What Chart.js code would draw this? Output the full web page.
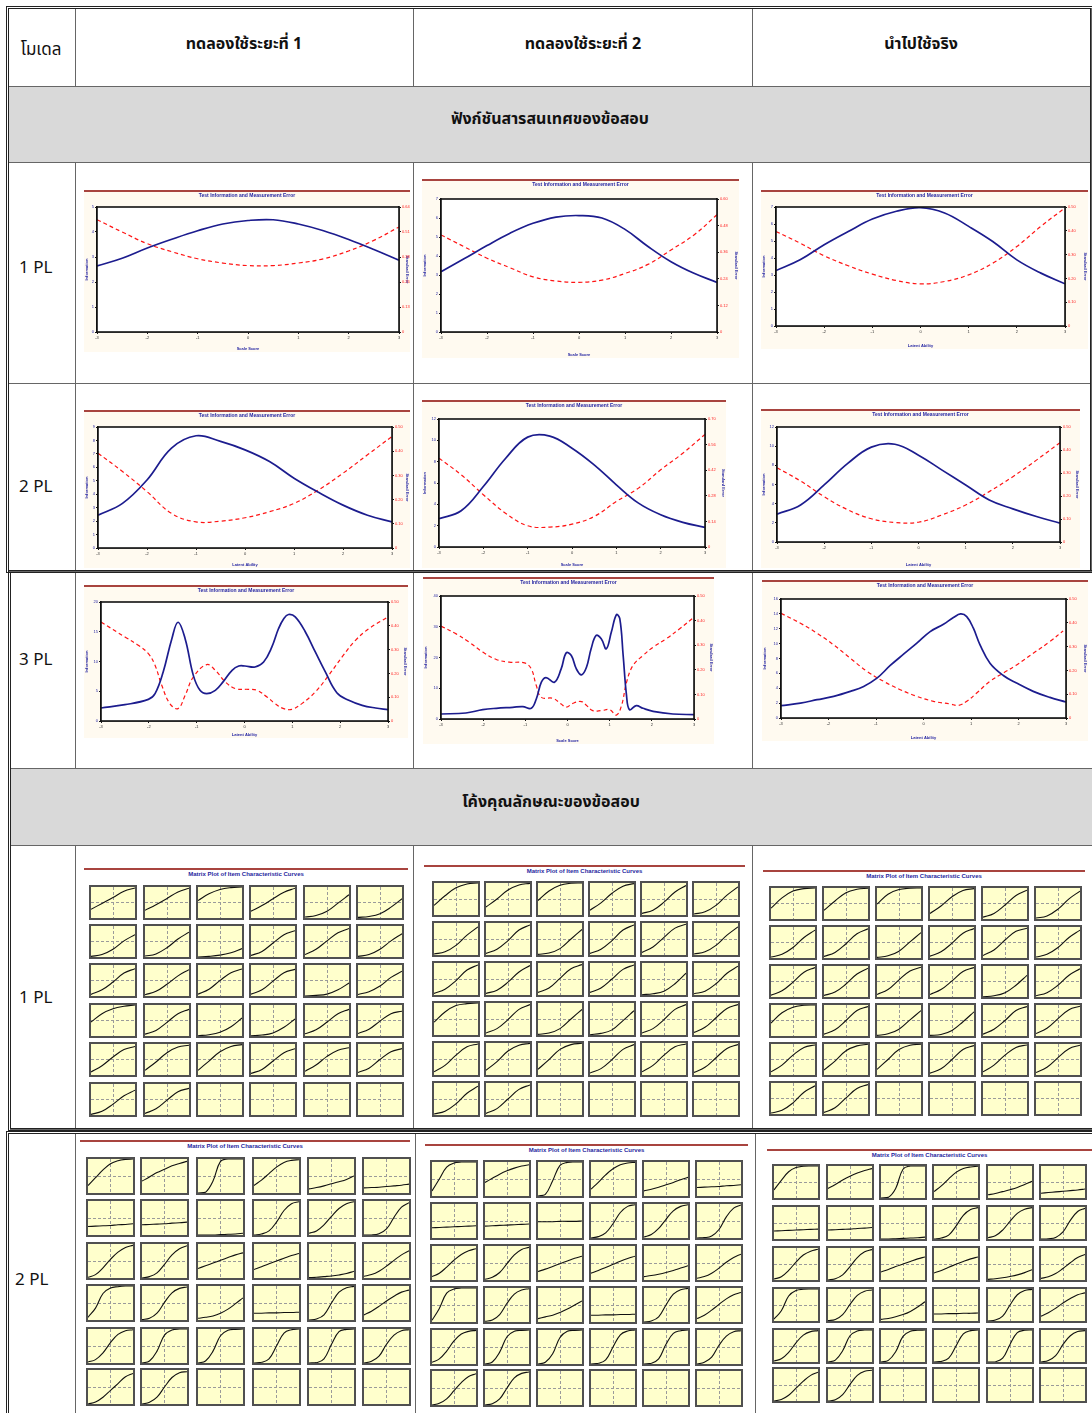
<!DOCTYPE html>
<html lang="th">
<head>
<meta charset="utf-8">
<title>ฟังก์ชันสารสนเทศและโค้งคุณลักษณะของข้อสอบ</title>
<script src="https://cdn.jsdelivr.net/npm/chart.js@4.4.0/dist/chart.umd.min.js"></script>
<style>
html, body { margin: 0; padding: 0; background: #fff; }
body { width: 1092px; height: 1413px; position: relative; overflow: hidden;
       font-family: Tahoma, "Leelawadee UI", "Noto Sans Thai", "Noto Sans", sans-serif; color: #111; }
.frame { position: absolute; border: 3px double #222; box-sizing: border-box; }
.cell { position: absolute; border: 1px solid #666; box-sizing: border-box; }
.grey { background: #d9d9d9; }
.txt { position: absolute; font-size: 17px; white-space: nowrap; }
.c { transform: translate(-50%, -50%); }
.l { transform: translateY(-50%); }
.b { font-weight: bold; font-size: 16px; }
.fig { position: absolute; border-top: 2px solid #a8443f; background: #fffaf0; }
.fig canvas { position: absolute; left: 0; top: 0; }
.mline { position: absolute; border-top: 2px solid #a8443f; }
.mtitle { position: absolute; font: bold 6px Arial, sans-serif; color: #1f1fa0; white-space: nowrap; transform: translateX(-50%); }
.panel { position: absolute; background: #ffffcc; border: 2px solid #505050; box-sizing: border-box; }
.panel canvas { display: block; }
</style>
</head>
<body>
<div id="page"></div>
<script>
// ---------- data ----------
const thetaGrid = [-3, -2.5, -2, -1.5, -1, -0.5, 0, 0.5, 1, 1.5, 2, 2.5, 3];

// test information / standard error, 1PL
const info1PL_t1 = [2.64, 2.95, 3.36, 3.72, 4.05, 4.32, 4.46, 4.49, 4.32, 4.05, 3.70, 3.30, 2.87];
const se1PL_t1   = [0.575, 0.512, 0.452, 0.410, 0.375, 0.353, 0.340, 0.340, 0.353, 0.375, 0.415, 0.469, 0.538];
const info1PL_t2 = [3.17, 3.85, 4.55, 5.20, 5.72, 6.05, 6.13, 6.00, 5.40, 4.50, 3.70, 3.09, 2.61];
const se1PL_t2   = [0.438, 0.385, 0.333, 0.290, 0.249, 0.230, 0.224, 0.234, 0.264, 0.305, 0.370, 0.438, 0.529];
const info1PL_use = [3.26, 3.89, 4.78, 5.56, 6.29, 6.75, 6.96, 6.65, 5.86, 4.97, 3.89, 3.11, 2.48];
const se1PL_use   = [0.397, 0.348, 0.295, 0.253, 0.218, 0.191, 0.177, 0.187, 0.215, 0.264, 0.334, 0.419, 0.496];

// 2PL
const info2PL_t1 = [2.44, 3.32, 5.06, 7.43, 8.35, 7.93, 7.30, 6.43, 5.19, 4.14, 3.19, 2.44, 1.94];
const se2PL_t1   = [0.392, 0.316, 0.233, 0.143, 0.108, 0.111, 0.125, 0.150, 0.184, 0.240, 0.309, 0.385, 0.461];
const info2PL_t2 = [2.65, 3.40, 5.67, 8.30, 10.30, 10.40, 9.26, 7.70, 5.83, 4.11, 3.02, 2.31, 1.84];
const se2PL_t2   = [0.486, 0.395, 0.286, 0.185, 0.116, 0.109, 0.125, 0.167, 0.249, 0.322, 0.422, 0.513, 0.616];
const info2PL_use = [2.90, 3.87, 5.95, 8.20, 9.90, 10.20, 9.06, 7.50, 5.95, 4.39, 3.46, 2.66, 1.97];
const se2PL_use   = [0.323, 0.265, 0.197, 0.140, 0.101, 0.085, 0.086, 0.118, 0.161, 0.219, 0.284, 0.356, 0.432];

// 3PL (irregular curves, own theta points)
const info3PL_t1_x = [-3, -2.5, -2.01, -1.87, -1.70, -1.52, -1.39, -1.24, -1.07, -0.93, -0.79, -0.61, -0.44, -0.26, -0.12, 0.01, 0.22, 0.40, 0.57, 0.71, 0.82, 0.92, 1.06, 1.27, 1.48, 1.69, 1.93, 2.18, 2.46, 2.74, 3];
const info3PL_t1   = [2.18, 2.74, 3.64, 4.59, 8.24, 13.8, 16.6, 13.8, 7.67, 5.15, 4.59, 5.15, 6.66, 8.52, 9.24, 9.24, 9.08, 9.92, 12.4, 15.5, 17.2, 17.9, 17.5, 15.0, 11.6, 8.24, 4.76, 3.47, 2.63, 2.18, 1.90];
const se3PL_t1_x   = [-3, -2.5, -2.22, -2.01, -1.87, -1.73, -1.56, -1.39, -1.24, -1.07, -0.79, -0.61, -0.40, -0.19, 0.08, 0.26, 0.47, 0.64, 0.82, 0.99, 1.20, 1.48, 1.76, 2.04, 2.32, 2.60, 3];
const se3PL_t1     = [0.416, 0.353, 0.318, 0.283, 0.234, 0.150, 0.073, 0.052, 0.108, 0.185, 0.237, 0.213, 0.164, 0.136, 0.133, 0.129, 0.101, 0.073, 0.052, 0.049, 0.073, 0.122, 0.192, 0.269, 0.339, 0.388, 0.437];

const info3PL_t2_x = [-3, -2.41, -2.01, -1.69, -1.30, -1.06, -0.86, -0.74, -0.62, -0.51, -0.31, -0.15, -0.03, 0.09, 0.21, 0.33, 0.45, 0.56, 0.68, 0.80, 0.92, 1.04, 1.16, 1.24, 1.32, 1.40, 1.47, 1.63, 1.79, 2.03, 2.50, 3];
const info3PL_t2   = [1.63, 1.96, 3.04, 3.48, 3.80, 4.02, 3.48, 6.52, 11.96, 13.48, 11.96, 16.3, 21.5, 20.65, 16.3, 14.35, 16.85, 22.83, 27.17, 26.09, 22.83, 28.26, 33.91, 32.61, 20.65, 7.61, 3.04, 4.35, 3.48, 2.50, 1.63, 1.41];
const se3PL_t2_x   = [-3, -2.64, -2.33, -2.01, -1.69, -1.38, -1.02, -0.86, -0.74, -0.62, -0.35, -0.15, -0.03, 0.13, 0.33, 0.44, 0.60, 0.80, 1.0, 1.16, 1.28, 1.40, 1.55, 1.79, 2.03, 2.34, 2.66, 3];
const se3PL_t2     = [0.378, 0.346, 0.312, 0.272, 0.242, 0.231, 0.228, 0.204, 0.136, 0.088, 0.084, 0.061, 0.048, 0.064, 0.071, 0.057, 0.034, 0.034, 0.038, 0.016, 0.054, 0.149, 0.217, 0.258, 0.292, 0.326, 0.367, 0.414];

const info3PL_use_x = [-3, -2.59, -2.24, -1.89, -1.54, -1.26, -0.98, -0.70, -0.42, -0.14, 0.14, 0.42, 0.63, 0.78, 0.91, 1.05, 1.19, 1.40, 1.68, 1.96, 2.31, 2.66, 3];
const info3PL_use   = [1.65, 2.01, 2.46, 2.91, 3.58, 4.25, 5.36, 7.06, 8.58, 10.06, 11.62, 12.6, 13.5, 13.99, 13.63, 12.07, 9.83, 7.37, 5.72, 4.69, 3.58, 2.77, 2.15];
const se3PL_use_x   = [-3, -2.59, -2.24, -1.89, -1.54, -1.19, -0.84, -0.49, -0.14, 0.21, 0.56, 0.74, 0.91, 1.12, 1.40, 1.68, 1.96, 2.31, 2.66, 2.94];
const se3PL_use     = [0.440, 0.398, 0.356, 0.307, 0.251, 0.196, 0.154, 0.119, 0.091, 0.070, 0.059, 0.053, 0.070, 0.105, 0.154, 0.189, 0.223, 0.272, 0.321, 0.366];

// item characteristic curves: probability read at evenly spaced theta points
const iccGrid5 = [-3, -1.5, 0, 1.5, 3];
const iccGrid7 = [-3, -2, -1, 0, 1, 2, 3];

const icc1PL_t1 = [
  [0.28, 0.47, 0.66, 0.86, 0.97], [0.25, 0.43, 0.63, 0.84, 0.96], [0.56, 0.78, 0.92, 0.98, 1.0],
  [0.22, 0.40, 0.62, 0.83, 0.96], [0.03, 0.08, 0.22, 0.48, 0.75], [0.02, 0.05, 0.14, 0.35, 0.62],
  [0.02, 0.08, 0.25, 0.52, 0.72], [0.03, 0.10, 0.30, 0.58, 0.80], [0.0, 0.02, 0.06, 0.14, 0.27],
  [0.05, 0.18, 0.45, 0.72, 0.85], [0.08, 0.25, 0.52, 0.78, 0.92], [0.02, 0.08, 0.25, 0.52, 0.75],
  [0.05, 0.20, 0.45, 0.74, 0.88], [0.04, 0.15, 0.38, 0.65, 0.85], [0.06, 0.22, 0.50, 0.75, 0.87],
  [0.06, 0.20, 0.48, 0.75, 0.86], [0.0, 0.02, 0.06, 0.20, 0.42], [0.05, 0.14, 0.32, 0.60, 0.80],
  [0.45, 0.72, 0.88, 0.96, 1.0], [0.06, 0.18, 0.44, 0.72, 0.86], [0.01, 0.04, 0.12, 0.30, 0.58],
  [0.01, 0.03, 0.10, 0.28, 0.55], [0.07, 0.20, 0.45, 0.72, 0.86], [0.08, 0.22, 0.48, 0.72, 0.80],
  [0.10, 0.30, 0.58, 0.82, 0.92], [0.15, 0.42, 0.72, 0.90, 0.96], [0.15, 0.45, 0.75, 0.92, 0.98],
  [0.05, 0.18, 0.45, 0.72, 0.85], [0.12, 0.32, 0.60, 0.80, 0.88], [0.08, 0.22, 0.50, 0.75, 0.85],
  [0.02, 0.12, 0.35, 0.62, 0.80], [0.05, 0.20, 0.48, 0.75, 0.86]
];
const icc1PL_t2 = [
  [0.30, 0.60, 0.85, 0.97, 1.0], [0.25, 0.50, 0.78, 0.94, 0.99], [0.45, 0.75, 0.93, 0.99, 1.0],
  [0.15, 0.38, 0.68, 0.90, 0.98], [0.05, 0.15, 0.40, 0.72, 0.92], [0.03, 0.10, 0.30, 0.62, 0.88],
  [0.03, 0.10, 0.30, 0.62, 0.88], [0.05, 0.18, 0.45, 0.78, 0.94], [0.02, 0.06, 0.20, 0.50, 0.80],
  [0.05, 0.18, 0.45, 0.78, 0.94], [0.08, 0.25, 0.55, 0.84, 0.96], [0.03, 0.10, 0.30, 0.62, 0.88],
  [0.05, 0.18, 0.45, 0.78, 0.94], [0.05, 0.15, 0.40, 0.72, 0.92], [0.08, 0.22, 0.52, 0.82, 0.95],
  [0.08, 0.22, 0.50, 0.80, 0.94], [0.01, 0.04, 0.12, 0.35, 0.68], [0.04, 0.12, 0.35, 0.68, 0.90],
  [0.40, 0.72, 0.92, 0.98, 1.0], [0.06, 0.20, 0.48, 0.80, 0.95], [0.02, 0.06, 0.20, 0.50, 0.80],
  [0.01, 0.05, 0.16, 0.45, 0.76], [0.06, 0.20, 0.48, 0.80, 0.95], [0.08, 0.24, 0.54, 0.83, 0.95],
  [0.10, 0.30, 0.62, 0.88, 0.97], [0.15, 0.42, 0.75, 0.93, 0.99], [0.18, 0.48, 0.80, 0.95, 0.99],
  [0.06, 0.20, 0.48, 0.80, 0.95], [0.10, 0.30, 0.62, 0.88, 0.97], [0.08, 0.24, 0.54, 0.83, 0.95],
  [0.03, 0.12, 0.35, 0.68, 0.90], [0.05, 0.20, 0.50, 0.80, 0.94]
];
const icc1PL_use = [
  [0.35, 0.68, 0.90, 0.98, 1.0], [0.28, 0.58, 0.85, 0.96, 0.99], [0.48, 0.80, 0.95, 0.99, 1.0],
  [0.18, 0.42, 0.72, 0.92, 0.98], [0.06, 0.18, 0.45, 0.76, 0.93], [0.03, 0.10, 0.32, 0.65, 0.90],
  [0.03, 0.12, 0.34, 0.66, 0.90], [0.05, 0.18, 0.46, 0.78, 0.94], [0.02, 0.07, 0.22, 0.52, 0.82],
  [0.06, 0.20, 0.48, 0.80, 0.95], [0.08, 0.26, 0.58, 0.86, 0.96], [0.03, 0.12, 0.34, 0.66, 0.90],
  [0.06, 0.20, 0.48, 0.80, 0.95], [0.05, 0.16, 0.42, 0.74, 0.93], [0.08, 0.24, 0.55, 0.84, 0.96],
  [0.08, 0.24, 0.52, 0.82, 0.95], [0.01, 0.04, 0.14, 0.38, 0.70], [0.04, 0.14, 0.38, 0.70, 0.91],
  [0.42, 0.75, 0.93, 0.99, 1.0], [0.06, 0.20, 0.50, 0.82, 0.95], [0.02, 0.07, 0.22, 0.52, 0.82],
  [0.02, 0.05, 0.18, 0.46, 0.78], [0.06, 0.22, 0.50, 0.82, 0.95], [0.08, 0.25, 0.56, 0.85, 0.96],
  [0.10, 0.32, 0.64, 0.89, 0.97], [0.16, 0.45, 0.78, 0.94, 0.99], [0.18, 0.50, 0.82, 0.96, 0.99],
  [0.06, 0.20, 0.50, 0.82, 0.95], [0.10, 0.32, 0.64, 0.89, 0.97], [0.08, 0.25, 0.56, 0.85, 0.96],
  [0.03, 0.12, 0.36, 0.70, 0.91], [0.05, 0.20, 0.52, 0.82, 0.95]
];

const icc2PL_t1 = [
  [0.22, 0.45, 0.68, 0.86, 0.95, 0.99, 1.0], [0.35, 0.47, 0.60, 0.70, 0.80, 0.87, 0.93], [0.0, 0.02, 0.35, 0.93, 1.0, 1.0, 1.0],
  [0.22, 0.38, 0.57, 0.76, 0.90, 0.96, 0.98], [0.12, 0.16, 0.21, 0.27, 0.33, 0.40, 0.50], [0.15, 0.16, 0.17, 0.19, 0.21, 0.23, 0.26],
  [0.25, 0.26, 0.27, 0.28, 0.30, 0.31, 0.33], [0.30, 0.31, 0.32, 0.33, 0.35, 0.36, 0.38], [0.0, 0.0, 0.0, 0.01, 0.02, 0.03, 0.05],
  [0.0, 0.03, 0.12, 0.38, 0.72, 0.92, 0.98], [0.05, 0.12, 0.30, 0.55, 0.78, 0.92, 0.98], [0.0, 0.0, 0.04, 0.18, 0.52, 0.82, 0.95],
  [0.02, 0.10, 0.30, 0.55, 0.76, 0.90, 0.96], [0.0, 0.04, 0.15, 0.40, 0.68, 0.86, 0.95], [0.28, 0.36, 0.44, 0.52, 0.60, 0.68, 0.74],
  [0.25, 0.33, 0.42, 0.50, 0.58, 0.66, 0.72], [0.01, 0.02, 0.04, 0.06, 0.09, 0.13, 0.20], [0.05, 0.10, 0.20, 0.35, 0.52, 0.68, 0.80],
  [0.08, 0.35, 0.78, 0.94, 0.98, 1.0, 1.0], [0.01, 0.05, 0.20, 0.52, 0.80, 0.93, 0.97], [0.05, 0.08, 0.12, 0.20, 0.32, 0.48, 0.65],
  [0.20, 0.20, 0.21, 0.21, 0.22, 0.22, 0.23], [0.0, 0.03, 0.15, 0.50, 0.82, 0.95, 0.99], [0.15, 0.26, 0.40, 0.56, 0.70, 0.82, 0.88],
  [0.03, 0.10, 0.30, 0.60, 0.84, 0.95, 0.98], [0.0, 0.06, 0.35, 0.82, 0.97, 1.0, 1.0], [0.0, 0.06, 0.35, 0.80, 0.96, 0.99, 1.0],
  [0.0, 0.02, 0.12, 0.50, 0.88, 0.98, 1.0], [0.0, 0.01, 0.12, 0.55, 0.92, 0.99, 1.0], [0.0, 0.05, 0.20, 0.55, 0.82, 0.95, 0.98],
  [0.0, 0.06, 0.20, 0.40, 0.60, 0.80, 0.90], [0.0, 0.05, 0.20, 0.50, 0.78, 0.92, 0.95]
];
const icc2PL_t2 = [
  [0.15, 0.50, 0.85, 0.97, 1.0, 1.0, 1.0], [0.40, 0.52, 0.64, 0.74, 0.82, 0.88, 0.92], [0.0, 0.05, 0.45, 0.90, 0.99, 1.0, 1.0],
  [0.20, 0.40, 0.62, 0.80, 0.92, 0.97, 0.99], [0.15, 0.20, 0.26, 0.33, 0.40, 0.48, 0.55], [0.25, 0.26, 0.27, 0.28, 0.30, 0.31, 0.33],
  [0.30, 0.31, 0.32, 0.33, 0.34, 0.35, 0.36], [0.35, 0.36, 0.37, 0.38, 0.39, 0.40, 0.41], [0.48, 0.48, 0.48, 0.49, 0.49, 0.49, 0.50],
  [0.0, 0.04, 0.15, 0.42, 0.75, 0.93, 0.98], [0.03, 0.10, 0.28, 0.55, 0.80, 0.93, 0.98], [0.0, 0.01, 0.06, 0.25, 0.62, 0.88, 0.97],
  [0.10, 0.20, 0.38, 0.58, 0.75, 0.86, 0.92], [0.02, 0.08, 0.22, 0.48, 0.74, 0.90, 0.96], [0.25, 0.32, 0.40, 0.48, 0.56, 0.64, 0.70],
  [0.20, 0.28, 0.37, 0.46, 0.55, 0.63, 0.70], [0.10, 0.13, 0.17, 0.22, 0.28, 0.35, 0.42], [0.05, 0.10, 0.20, 0.35, 0.52, 0.66, 0.76],
  [0.05, 0.40, 0.85, 0.97, 1.0, 1.0, 1.0], [0.02, 0.06, 0.22, 0.55, 0.82, 0.94, 0.98], [0.10, 0.15, 0.20, 0.28, 0.38, 0.50, 0.62],
  [0.20, 0.20, 0.21, 0.21, 0.22, 0.22, 0.23], [0.0, 0.03, 0.15, 0.50, 0.82, 0.95, 0.99], [0.10, 0.20, 0.35, 0.52, 0.68, 0.80, 0.87],
  [0.05, 0.15, 0.38, 0.68, 0.88, 0.96, 0.99], [0.0, 0.06, 0.35, 0.80, 0.96, 0.99, 1.0], [0.0, 0.05, 0.30, 0.78, 0.96, 0.99, 1.0],
  [0.0, 0.02, 0.12, 0.50, 0.86, 0.97, 1.0], [0.0, 0.02, 0.15, 0.58, 0.90, 0.98, 1.0], [0.0, 0.05, 0.20, 0.55, 0.82, 0.95, 0.98],
  [0.0, 0.05, 0.18, 0.42, 0.66, 0.84, 0.92], [0.0, 0.04, 0.18, 0.50, 0.80, 0.93, 0.97]
];
const icc2PL_use = [
  [0.25, 0.55, 0.82, 0.95, 0.99, 1.0, 1.0], [0.30, 0.42, 0.56, 0.68, 0.78, 0.86, 0.92], [0.0, 0.02, 0.30, 0.90, 1.0, 1.0, 1.0],
  [0.20, 0.38, 0.60, 0.80, 0.92, 0.97, 0.99], [0.10, 0.14, 0.20, 0.26, 0.33, 0.42, 0.52], [0.15, 0.17, 0.19, 0.21, 0.23, 0.25, 0.28],
  [0.25, 0.26, 0.27, 0.28, 0.29, 0.30, 0.31], [0.28, 0.29, 0.30, 0.31, 0.33, 0.34, 0.36], [0.0, 0.0, 0.01, 0.02, 0.03, 0.04, 0.06],
  [0.0, 0.03, 0.12, 0.40, 0.74, 0.92, 0.98], [0.04, 0.10, 0.28, 0.55, 0.80, 0.93, 0.98], [0.0, 0.01, 0.05, 0.22, 0.58, 0.86, 0.96],
  [0.03, 0.10, 0.30, 0.56, 0.78, 0.90, 0.96], [0.0, 0.04, 0.16, 0.42, 0.70, 0.88, 0.95], [0.25, 0.33, 0.42, 0.50, 0.58, 0.66, 0.72],
  [0.22, 0.30, 0.40, 0.49, 0.58, 0.66, 0.72], [0.02, 0.04, 0.07, 0.11, 0.16, 0.23, 0.32], [0.05, 0.10, 0.20, 0.36, 0.54, 0.70, 0.80],
  [0.06, 0.32, 0.78, 0.95, 0.99, 1.0, 1.0], [0.01, 0.05, 0.20, 0.52, 0.80, 0.93, 0.97], [0.05, 0.08, 0.13, 0.20, 0.30, 0.44, 0.60],
  [0.22, 0.22, 0.23, 0.23, 0.24, 0.24, 0.25], [0.0, 0.03, 0.15, 0.50, 0.82, 0.95, 0.99], [0.15, 0.26, 0.40, 0.56, 0.70, 0.82, 0.88],
  [0.03, 0.10, 0.30, 0.60, 0.84, 0.95, 0.98], [0.0, 0.06, 0.35, 0.82, 0.97, 1.0, 1.0], [0.0, 0.05, 0.32, 0.80, 0.96, 0.99, 1.0],
  [0.0, 0.02, 0.12, 0.50, 0.88, 0.98, 1.0], [0.0, 0.01, 0.12, 0.55, 0.92, 0.99, 1.0], [0.0, 0.05, 0.20, 0.55, 0.82, 0.95, 0.98],
  [0.0, 0.05, 0.18, 0.40, 0.62, 0.80, 0.90], [0.0, 0.04, 0.20, 0.52, 0.80, 0.93, 0.96]
];

// ---------- layout ----------
const page = document.getElementById('page');

function addDiv(cls, x, y, w, h, text) {
    var d = document.createElement('div');
    d.className = cls;
    d.style.left = x + 'px';
    d.style.top = y + 'px';
    if (w != null) d.style.width = w + 'px';
    if (h != null) d.style.height = h + 'px';
    if (text) d.textContent = text;
    page.appendChild(d);
    return d;
}

// three table blocks: column lines, row lines, rows that span the full width
var tables = [
    { cols: [8, 75, 413, 752, 1091], rows: [8, 86, 162, 383, 571], spanRows: [1] },
    { cols: [10, 75, 413, 752, 1093], rows: [572, 768, 845, 1129], spanRows: [1] },
    { cols: [8, 75, 415, 755, 1093], rows: [1133, 1430], spanRows: [] }
];
tables.forEach(function (t) {
    for (var r = 0; r < t.rows.length - 1; r++) {
        var y = t.rows[r], h = t.rows[r + 1] - y + 1;
        if (t.spanRows.indexOf(r) >= 0) {
            addDiv('cell grey', t.cols[0], y, t.cols[4] - t.cols[0] + 1, h);
            continue;
        }
        for (var c = 0; c < 4; c++) {
            addDiv('cell', t.cols[c], y, t.cols[c + 1] - t.cols[c] + 1, h);
        }
    }
    addDiv('frame', t.cols[0] - 2, t.rows[0] - 2, t.cols[4] - t.cols[0] + 4, t.rows[t.rows.length - 1] - t.rows[0] + 4);
});

addDiv('txt c', 41, 50, null, null, 'โมเดล');
addDiv('txt c b', 244, 44, null, null, 'ทดลองใช้ระยะที่ 1');
addDiv('txt c b', 583, 44, null, null, 'ทดลองใช้ระยะที่ 2');
addDiv('txt c b', 921, 44, null, null, 'นำไปใช้จริง');
addDiv('txt c b', 550, 119, null, null, 'ฟังก์ชันสารสนเทศของข้อสอบ');
addDiv('txt c b', 551, 802, null, null, 'โค้งคุณลักษณะของข้อสอบ');
addDiv('txt l', 19, 268, null, null, '1 PL');
addDiv('txt l', 19, 487, null, null, '2 PL');
addDiv('txt l', 19, 660, null, null, '3 PL');
addDiv('txt l', 19, 998, null, null, '1 PL');
addDiv('txt l', 15, 1280, null, null, '2 PL');

// ---------- information charts ----------
function pts(xs, ys) {
    return ys.map(function (v, i) { return { x: xs[i], y: v }; });
}

var plotFrame = {
    id: 'plotFrame',
    beforeDatasetsDraw: function (chart) {
        var a = chart.chartArea, ctx = chart.ctx;
        ctx.save();
        ctx.fillStyle = '#ffffff';
        ctx.fillRect(a.left, a.top, a.right - a.left, a.bottom - a.top);
        ctx.restore();
    },
    afterDraw: function (chart) {
        var a = chart.chartArea, ctx = chart.ctx;
        ctx.save();
        ctx.strokeStyle = '#111';
        ctx.lineWidth = 1.6;
        ctx.strokeRect(a.left, a.top, a.right - a.left, a.bottom - a.top);
        ctx.restore();
    }
};

var infoFigs = [
    { box: [84, 190, 326, 162], plot: [97, 207, 399, 332], ix: thetaGrid, iy: info1PL_t1, sx: thetaGrid, sy: se1PL_t1, iMax: 5, iStep: 1, sMax: 0.64, sStep: 0.128, xTitle: 'Scale Score' },
    { box: [422, 179, 317, 179], plot: [441, 199, 717, 332], ix: thetaGrid, iy: info1PL_t2, sx: thetaGrid, sy: se1PL_t2, iMax: 7, iStep: 1, sMax: 0.6, sStep: 0.12, xTitle: 'Scale Score' },
    { box: [761, 190, 327, 159], plot: [776, 207, 1065, 326], ix: thetaGrid, iy: info1PL_use, sx: thetaGrid, sy: se1PL_use, iMax: 7, iStep: 1, sMax: 0.5, sStep: 0.1, xTitle: 'Latent Ability' },
    { box: [84, 410, 326, 158], plot: [98, 427, 392, 548], ix: thetaGrid, iy: info2PL_t1, sx: thetaGrid, sy: se2PL_t1, iMax: 9, iStep: 1, sMax: 0.5, sStep: 0.1, xTitle: 'Latent Ability' },
    { box: [422, 400, 304, 168], plot: [439, 419, 705, 547], ix: thetaGrid, iy: info2PL_t2, sx: thetaGrid, sy: se2PL_t2, iMax: 12, iStep: 2, sMax: 0.7, sStep: 0.14, xTitle: 'Scale Score' },
    { box: [761, 409, 319, 159], plot: [777, 427, 1060, 542], ix: thetaGrid, iy: info2PL_use, sx: thetaGrid, sy: se2PL_use, iMax: 12, iStep: 2, sMax: 0.5, sStep: 0.1, xTitle: 'Latent Ability' },
    { box: [84, 585, 324, 153], plot: [101, 602, 388, 721], ix: info3PL_t1_x, iy: info3PL_t1, sx: se3PL_t1_x, sy: se3PL_t1, iMax: 20, iStep: 5, sMax: 0.5, sStep: 0.1, xTitle: 'Latent Ability' },
    { box: [423, 577, 291, 167], plot: [441, 596, 694, 719], ix: info3PL_t2_x, iy: info3PL_t2, sx: se3PL_t2_x, sy: se3PL_t2, iMax: 40, iStep: 10, sMax: 0.5, sStep: 0.1, xTitle: 'Scale Score' },
    { box: [762, 580, 326, 161], plot: [781, 599, 1066, 718], ix: info3PL_use_x, iy: info3PL_use, sx: se3PL_use_x, sy: se3PL_use, iMax: 16, iStep: 2, sMax: 0.5, sStep: 0.1, xTitle: 'Latent Ability' }
];

function drawInfo(f) {
    var bx = f.box[0], by = f.box[1], bw = f.box[2], bh = f.box[3];
    var wrap = addDiv('fig', bx, by, bw, bh - 2);
    var cv = document.createElement('canvas');
    cv.width = bw;
    cv.height = bh - 2;
    wrap.appendChild(cv);
    var top0 = by + 2;
    var tiny = { size: 4, family: 'Arial' };

    new Chart(cv.getContext('2d'), {
        type: 'line',
        data: {
            datasets: [{
                label: 'Information',
                data: pts(f.ix, f.iy),
                yAxisID: 'y',
                borderColor: '#1c1c8e',
                borderWidth: 1.7,
                pointRadius: 0,
                tension: 0.4
            }, {
                label: 'Standard Error',
                data: pts(f.sx, f.sy),
                yAxisID: 'y1',
                borderColor: '#ff1414',
                borderWidth: 1.2,
                borderDash: [4, 3],
                pointRadius: 0,
                tension: 0.4
            }]
        },
        options: {
            responsive: false,
            animation: false,
            events: [],
            layout: { padding: 0 },
            plugins: {
                legend: { display: false },
                tooltip: { enabled: false },
                title: {
                    display: true,
                    text: 'Test Information and Measurement Error',
                    color: '#1f1fa0',
                    font: { size: 5, family: 'Arial', weight: 'bold' },
                    padding: { top: 1, bottom: f.plot[1] - top0 - 7 }
                }
            },
            scales: {
                x: {
                    type: 'linear', min: -3, max: 3,
                    ticks: { stepSize: 1, font: tiny, color: '#333', padding: 1 },
                    grid: { drawOnChartArea: false, tickLength: 2, color: '#111' },
                    border: { color: '#111', width: 1.6 },
                    title: { display: true, text: f.xTitle, font: { size: 4, family: 'Arial', weight: 'bold' }, color: '#1f1fa0', padding: 1 },
                    afterFit: function (s) { s.height = by + bh - f.plot[3]; }
                },
                y: {
                    position: 'left', min: 0, max: f.iMax,
                    ticks: { stepSize: f.iStep, font: tiny, color: '#1f1fa0', padding: 1 },
                    grid: { drawOnChartArea: false, tickLength: 2, color: '#111' },
                    border: { color: '#111', width: 1.6 },
                    title: { display: true, text: 'Information', font: { size: 4, family: 'Arial', weight: 'bold' }, color: '#1f1fa0', padding: 0 },
                    afterFit: function (s) { s.width = f.plot[0] - bx; }
                },
                y1: {
                    position: 'right', min: 0, max: f.sMax,
                    ticks: { stepSize: f.sStep, font: tiny, color: '#ff2020', padding: 1,
                             callback: function (v) { return v === 0 ? '0' : v.toFixed(2); } },
                    grid: { drawOnChartArea: false, tickLength: 2, color: '#111' },
                    border: { color: '#111', width: 1.6 },
                    title: { display: true, text: 'Standard Error', font: { size: 4, family: 'Arial', weight: 'bold' }, color: '#1f1fa0', padding: 0 },
                    afterFit: function (s) { s.width = bx + bw - f.plot[2]; }
                }
            }
        },
        plugins: [plotFrame]
    });
}

infoFigs.forEach(drawInfo);

// ---------- matrix plots of item characteristic curves ----------
var matrices = [
    { line: [84, 868, 324], cols: [89, 143, 196, 249, 303, 356], rows: [885, 924, 963, 1003, 1042, 1082], pw: 48, ph: 35, items: icc1PL_t1 },
    { line: [424, 865, 321], cols: [432, 484, 536, 588, 640, 692], rows: [881, 921, 961, 1001, 1041, 1081], pw: 48, ph: 36, items: icc1PL_t2 },
    { line: [763, 870, 322], cols: [769, 822, 875, 928, 981, 1034], rows: [886, 925, 964, 1003, 1042, 1081], pw: 48, ph: 35, items: icc1PL_use },
    { line: [80, 1140, 330], cols: [86, 140, 196, 252, 307, 362], rows: [1157, 1199, 1242, 1284, 1327, 1368], pw: 49, ph: 38, items: icc2PL_t1 },
    { line: [425, 1144, 323], cols: [430, 483, 536, 589, 642, 695], rows: [1160, 1202, 1244, 1286, 1328, 1369], pw: 48, ph: 38, items: icc2PL_t2 },
    { line: [767, 1149, 325], cols: [772, 826, 879, 932, 986, 1039], rows: [1164, 1205, 1246, 1287, 1328, 1367], pw: 48, ph: 36, items: icc2PL_use }
];

function gridAt(mid) {
    return function (ctx) {
        return ctx.tick && ctx.tick.value === mid ? '#9a9a9a' : 'rgba(0,0,0,0)';
    };
}

function drawPanel(x, y, w, h, curve) {
    var p = addDiv('panel', x, y, w, h);
    var cv = document.createElement('canvas');
    cv.width = w - 4;
    cv.height = h - 4;
    p.appendChild(cv);
    var datasets = [];
    if (curve) {
        var grid = curve.length === 5 ? iccGrid5 : iccGrid7;
        datasets.push({
            data: pts(grid, curve),
            borderColor: '#111',
            borderWidth: 1.1,
            pointRadius: 0,
            tension: 0.4
        });
    }
    new Chart(cv.getContext('2d'), {
        type: 'line',
        data: { datasets: datasets },
        options: {
            responsive: false,
            animation: false,
            events: [],
            layout: { padding: 0 },
            plugins: { legend: { display: false }, tooltip: { enabled: false } },
            scales: {
                x: {
                    type: 'linear', min: -3, max: 3,
                    ticks: { display: false, stepSize: 3 },
                    grid: { color: gridAt(0), lineWidth: 1, drawTicks: false },
                    border: { display: false, dash: [3, 2] },
                    afterFit: function (s) { s.height = 0; }
                },
                y: {
                    min: 0, max: 1,
                    ticks: { display: false, stepSize: 0.5 },
                    grid: { color: gridAt(0.5), lineWidth: 1, drawTicks: false },
                    border: { display: false, dash: [3, 2] },
                    afterFit: function (s) { s.width = 0; }
                }
            }
        }
    });
}

matrices.forEach(function (m) {
    addDiv('mline', m.line[0], m.line[1], m.line[2], 0);
    addDiv('mtitle', m.line[0] + m.line[2] / 2, m.line[1] + 3, null, null, 'Matrix Plot of Item Characteristic Curves');
    for (var r = 0; r < 6; r++) {
        for (var c = 0; c < 6; c++) {
            drawPanel(m.cols[c], m.rows[r], m.pw, m.ph, m.items[r * 6 + c]);
        }
    }
});
</script>
</body>
</html>
